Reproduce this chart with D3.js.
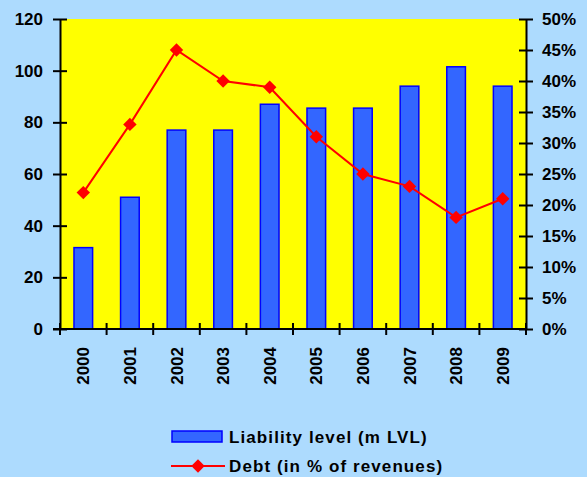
<!DOCTYPE html>
<html><head><meta charset="utf-8">
<script src="https://cdn.jsdelivr.net/npm/d3@7"></script>
<style>
html,body{margin:0;padding:0;background:#ADDBFE;}
svg{display:block;font-family:"Liberation Sans",Arial,sans-serif;font-weight:bold;}
</style></head>
<body>
<svg id="c" width="587" height="477"></svg>
<script>
const years = ["2000","2001","2002","2003","2004","2005","2006","2007","2008","2009"];
const liability = [31.5, 51, 77, 77, 87, 85.5, 85.5, 94, 101.5, 94];
const debtPct = [22, 33, 45, 40, 39, 31, 25, 23, 18, 21];
const leftTicks = [0, 20, 40, 60, 80, 100, 120];
const rightTicks = [0, 5, 10, 15, 20, 25, 30, 35, 40, 45, 50];
const seriesNames = ["Liability level (m LVL)", "Debt (in % of revenues)"];

const svg = d3.select("#c");
const L = 60, R = 526, T = 19, B = 329;
const FONT = "Liberation Sans, Arial, sans-serif";

svg.append("rect").attr("width",587).attr("height",477).attr("fill","#ADDBFE");
svg.append("rect").attr("x",L).attr("y",T).attr("width",R-L).attr("height",B-T).attr("fill","#FFFF00");

const x = d3.scaleBand().domain(years).range([L,R]).paddingInner(0.6).paddingOuter(0.3);
const xb = d3.scaleBand().domain(years).range([L,R]);
const yL = d3.scaleLinear().domain([0,120]).range([B,T]);
const yR = d3.scaleLinear().domain([0,50]).range([B,T]);

svg.append("g").selectAll("rect").data(years).join("rect")
  .attr("x", d => x(d)).attr("width", x.bandwidth())
  .attr("y", (d,i) => yL(liability[i])).attr("height", (d,i) => B - yL(liability[i]))
  .attr("fill","#3366FF").attr("stroke","#0000FF").attr("stroke-width",1.5);

const line = d3.line().x((d,i) => xb(years[i]) + xb.bandwidth()/2).y(d => yR(d));
svg.append("path").datum(debtPct).attr("d", line).attr("fill","none").attr("stroke","#FF0000").attr("stroke-width",2);
svg.append("g").selectAll("path").data(debtPct).join("path")
  .attr("d", d3.symbol(d3.symbolSquare, 90)())
  .attr("transform", (d,i) => `translate(${xb(years[i]) + xb.bandwidth()/2},${yR(d)}) rotate(45)`)
  .attr("fill","#FF0000");

// left axis
const gL = svg.append("g").attr("transform",`translate(${L},0)`)
  .call(d3.axisLeft(yL).tickValues(leftTicks).tickSize(0).tickPadding(17));
gL.select(".domain").attr("stroke","#000").attr("stroke-width",2);
gL.selectAll(".tick line").attr("x1",-7).attr("x2",7).attr("stroke","#000").attr("stroke-width",2);
gL.selectAll("text").attr("font-size",17).attr("font-weight","bold").attr("fill","#000").attr("font-family",FONT);

// right axis
const gR = svg.append("g").attr("transform",`translate(${R},0)`)
  .call(d3.axisRight(yR).tickValues(rightTicks).tickFormat(d => d + "%").tickSize(0).tickPadding(16));
gR.select(".domain").attr("stroke","#000").attr("stroke-width",2);
gR.selectAll(".tick line").attr("x1",-7).attr("x2",7).attr("stroke","#000").attr("stroke-width",2);
gR.selectAll("text").attr("font-size",17).attr("font-weight","bold").attr("fill","#000").attr("font-family",FONT);

// bottom axis
const gB = svg.append("g").attr("transform",`translate(0,${B})`);
gB.append("line").attr("x1",L-7).attr("x2",R).attr("stroke","#000").attr("stroke-width",2);
const bounds = years.map(d => xb(d)).concat([R]);
gB.selectAll(".tk").data(bounds).join("line").attr("class","tk")
  .attr("x1",d=>d).attr("x2",d=>d).attr("y1",-6).attr("y2",6).attr("stroke","#000").attr("stroke-width",2);
gB.selectAll(".lbl").data(years).join("text").attr("class","lbl")
  .attr("transform", d => `translate(${xb(d)+xb.bandwidth()/2+6},${18}) rotate(-90)`)
  .attr("text-anchor","end").attr("font-size",17).attr("fill","#000").text(d => d);

// legend
const lg = svg.append("g");
lg.append("rect").attr("x",172).attr("y",431).attr("width",50).attr("height",11)
  .attr("fill","#3366FF").attr("stroke","#0000FF").attr("stroke-width",1.5);
lg.append("text").attr("x",229).attr("y",443).attr("font-size",17).attr("letter-spacing",1.1).attr("fill","#000").text(seriesNames[0]);
lg.append("line").attr("x1",171).attr("x2",225).attr("y1",466).attr("y2",466).attr("stroke","#FF0000").attr("stroke-width",2);
lg.append("path").attr("d", d3.symbol(d3.symbolSquare, 90)())
  .attr("transform","translate(198,466) rotate(45)").attr("fill","#FF0000");
lg.append("text").attr("x",229).attr("y",472).attr("font-size",17).attr("letter-spacing",1.1).attr("fill","#000").text(seriesNames[1]);
</script>
</body></html>
